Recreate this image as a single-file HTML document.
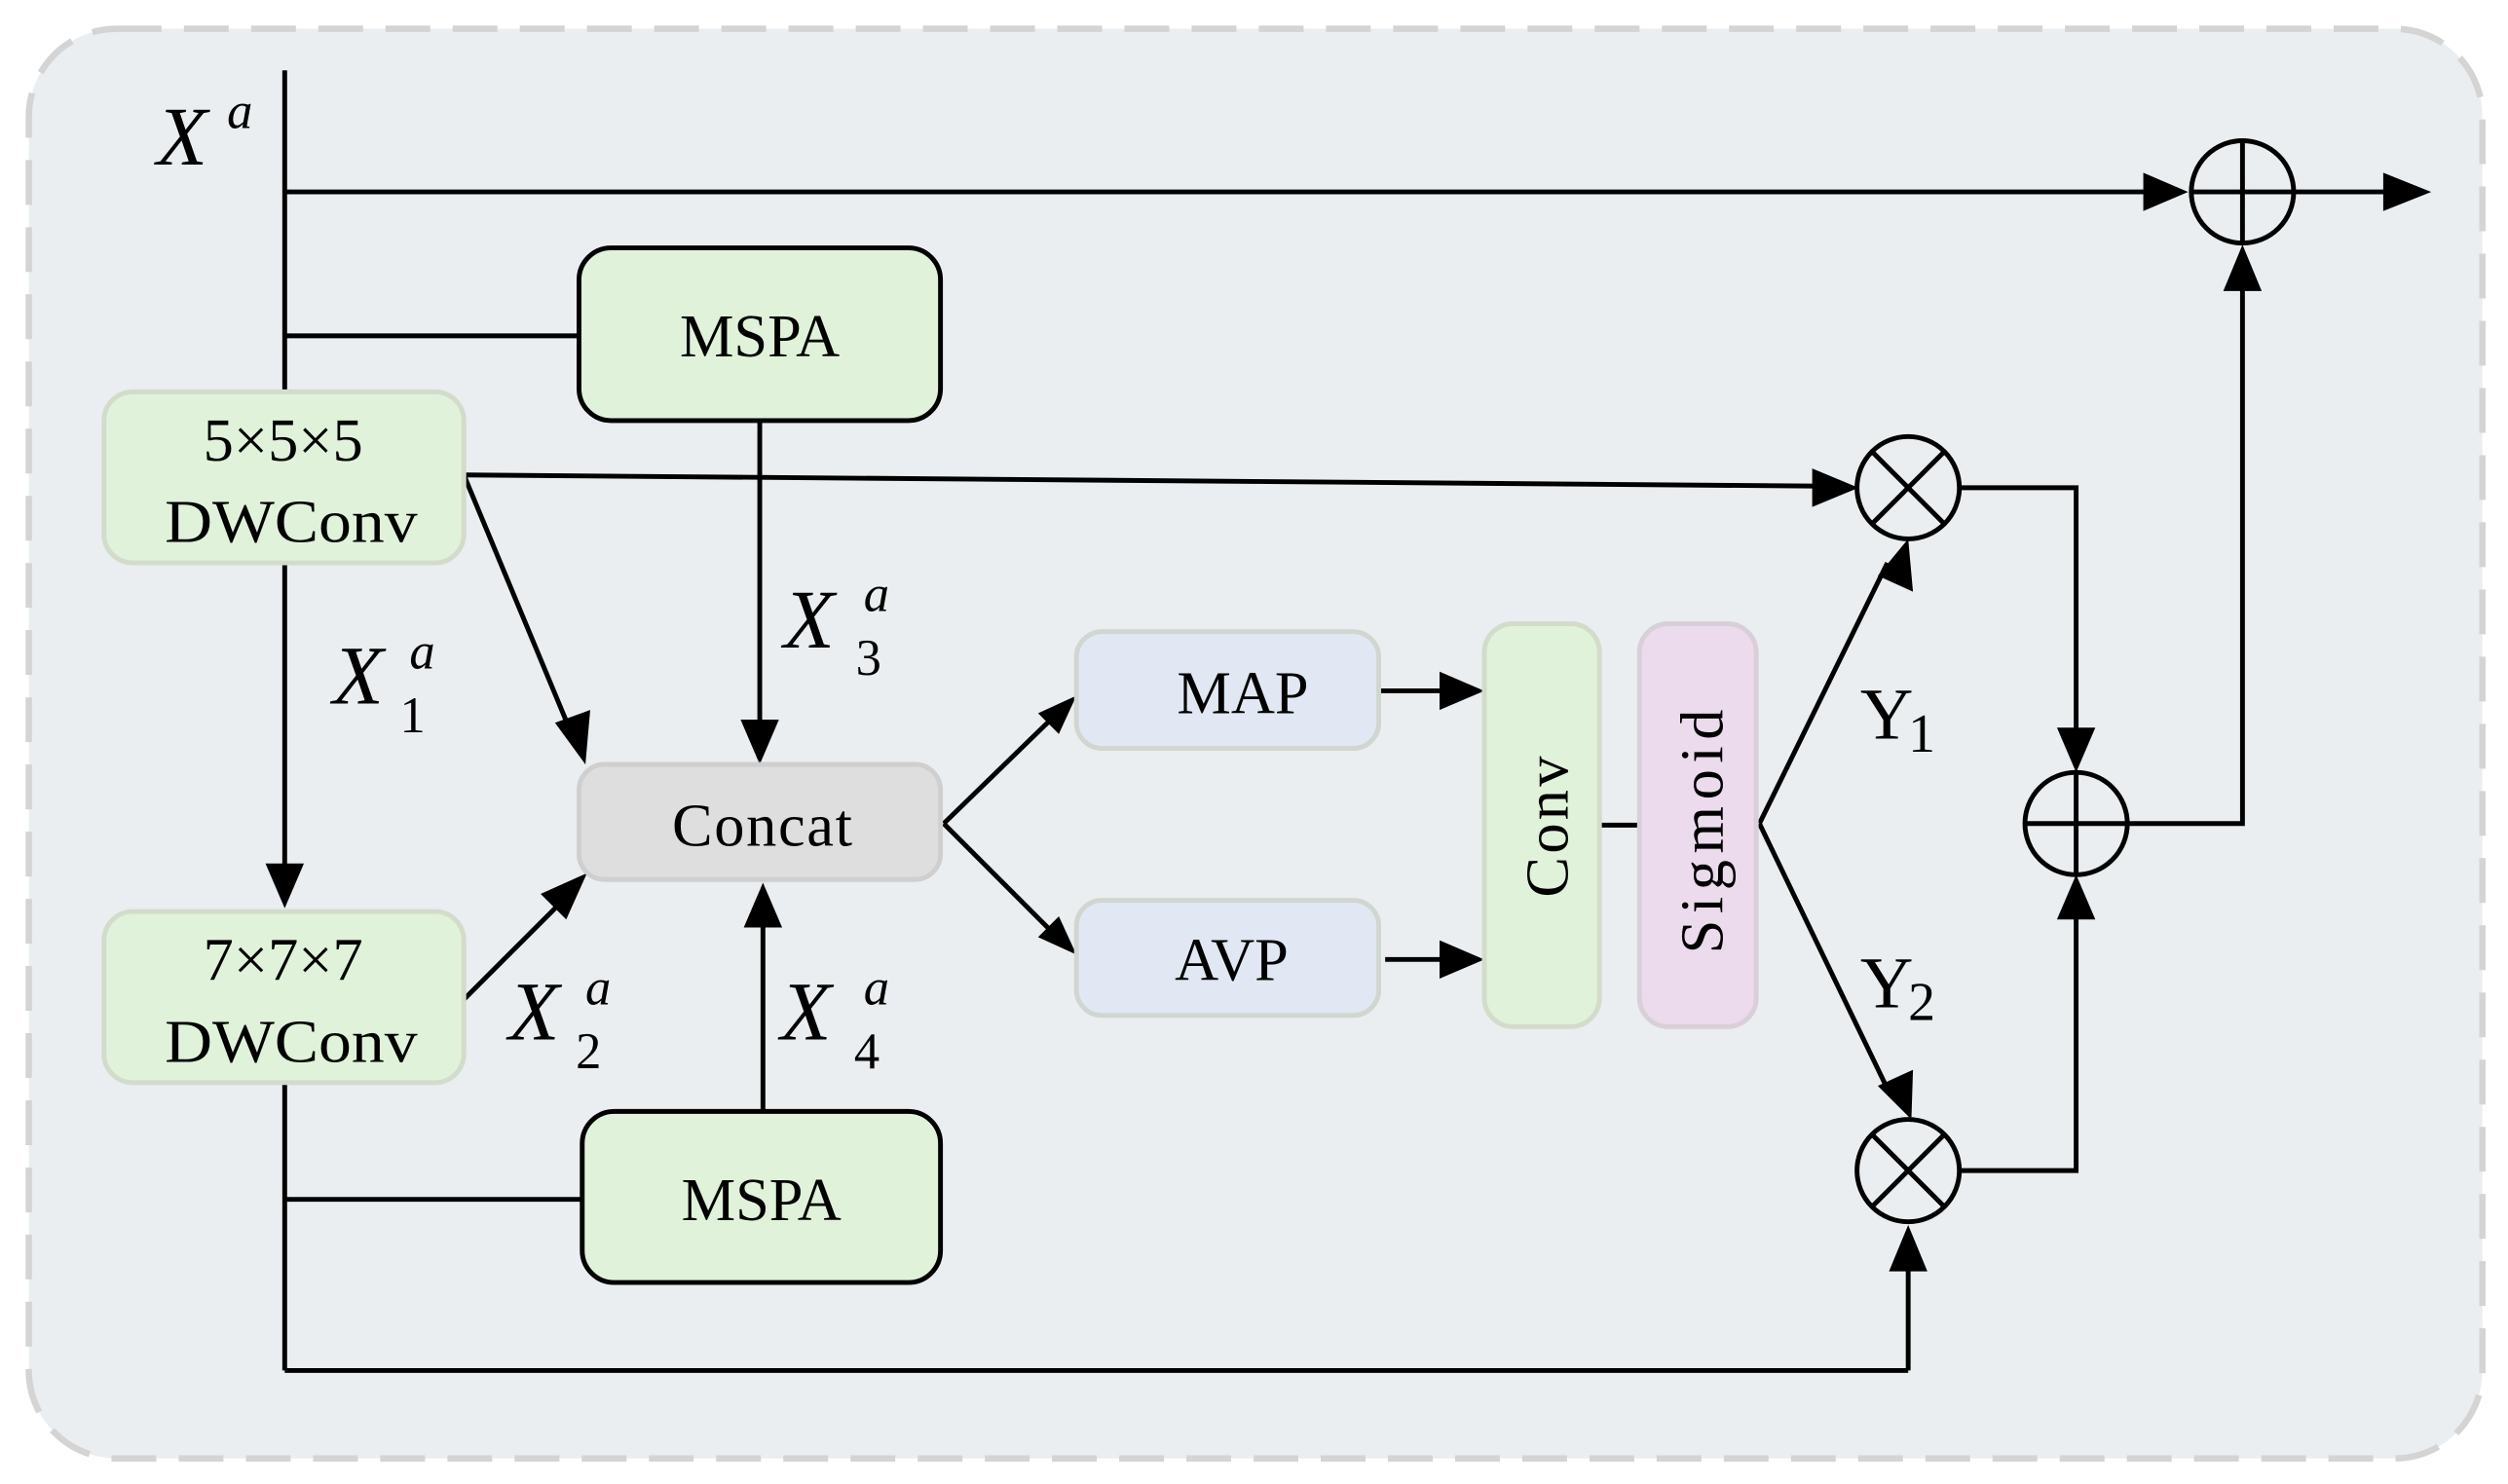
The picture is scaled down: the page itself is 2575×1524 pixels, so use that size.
<!DOCTYPE html>
<html><head><meta charset="utf-8"><style>
html,body{margin:0;padding:0;background:#fff;}
svg{display:block;}
text{font-family:"Liberation Serif",serif;fill:#000;}
</style></head><body>
<svg width="2575" height="1524" viewBox="0 0 1568 928" preserveAspectRatio="none" xmlns="http://www.w3.org/2000/svg">
<rect x="18" y="18" width="1534" height="894" rx="55" fill="#eaeef0" stroke="#d4d4d4" stroke-width="4" stroke-dasharray="28,14"/>
<g stroke="#000" stroke-width="3" fill="none">
<line x1="178" y1="44" x2="178" y2="545"/>
<line x1="178" y1="120" x2="1345" y2="120"/>
<line x1="1434" y1="120" x2="1500" y2="120"/>
<line x1="178" y1="210" x2="362" y2="210"/>
<line x1="290" y1="297" x2="1140" y2="304"/>
<line x1="290" y1="297" x2="357" y2="458"/>
<line x1="475" y1="263" x2="475" y2="458"/>
<line x1="290" y1="625" x2="352" y2="563"/>
<line x1="477" y1="695" x2="477" y2="572"/>
<line x1="178" y1="677" x2="178" y2="857"/>
<line x1="178" y1="857" x2="1193" y2="857"/>
<line x1="1193" y1="857" x2="1193" y2="785"/>
<line x1="178" y1="750" x2="364" y2="750"/>
<line x1="590" y1="515" x2="660" y2="447"/>
<line x1="590" y1="515" x2="660" y2="585"/>
<line x1="862" y1="432" x2="910" y2="432"/>
<line x1="866" y1="600" x2="910" y2="600"/>
<line x1="1000" y1="516" x2="1025" y2="516"/>
<line x1="1100" y1="515" x2="1180" y2="352"/>
<line x1="1100" y1="515" x2="1182" y2="685"/>
<polyline points="1225,305 1298,305 1298,465"/>
<polyline points="1225,732 1298,732 1298,565"/>
<polyline points="1330,515 1402,515 1402,172"/>
</g>
<g fill="#000">
<polygon points="1368,120 1340,108 1340,132"/>
<polygon points="1520,120 1490,108 1490,132"/>
<polygon points="1402,153 1390,182 1414,182"/>
<polygon points="178,568 166,540 190,540"/>
<polygon points="1162,305 1133,293 1133,317"/>
<polygon points="366,478 347,452 369,444"/>
<polygon points="475,478 463,450 487,450"/>
<polygon points="367,546 354,575 338,559"/>
<polygon points="477,552 465,580 489,580"/>
<polygon points="1193,766 1181,795 1205,795"/>
<polygon points="673,435 649,446 662,459"/>
<polygon points="673,597 649,586 662,573"/>
<polygon points="928,432 900,420 900,444"/>
<polygon points="928,600 900,588 900,612"/>
<polygon points="1193,337 1174,360 1196,370"/>
<polygon points="1195,700 1174,679 1196,669"/>
<polygon points="1298,483 1286,455 1310,455"/>
<polygon points="1298,547 1286,575 1310,575"/>
</g>
<g stroke="#000" stroke-width="3" fill="none">
<circle cx="1402" cy="120" r="32"/><line x1="1370" y1="120" x2="1434" y2="120"/><line x1="1402" y1="88" x2="1402" y2="152"/>
<circle cx="1298" cy="515" r="32"/><line x1="1266" y1="515" x2="1330" y2="515"/><line x1="1298" y1="483" x2="1298" y2="547"/>
<circle cx="1193" cy="305" r="32"/><line x1="1170" y1="282" x2="1216" y2="328"/><line x1="1216" y1="282" x2="1170" y2="328"/>
<circle cx="1193" cy="732" r="32"/><line x1="1170" y1="709" x2="1216" y2="755"/><line x1="1216" y1="709" x2="1170" y2="755"/>
</g>
<rect x="362" y="155" width="226" height="108" rx="20" fill="#e0f2da" stroke="#000" stroke-width="3"/>
<rect x="364" y="695" width="224" height="107" rx="20" fill="#e0f2da" stroke="#000" stroke-width="3"/>
<rect x="65" y="245" width="225" height="107" rx="18" fill="#e0f2da" stroke="#d3dccb" stroke-width="3"/>
<rect x="65" y="570" width="225" height="107" rx="18" fill="#e0f2da" stroke="#d3dccb" stroke-width="3"/>
<rect x="362" y="478" width="226" height="72" rx="16" fill="#dedede" stroke="#cfcfcf" stroke-width="3"/>
<rect x="673" y="395" width="189" height="73" rx="16" fill="#e1e8f3" stroke="#d0d6d0" stroke-width="3"/>
<rect x="673" y="563" width="189" height="72" rx="16" fill="#e1e8f3" stroke="#d0d6d0" stroke-width="3"/>
<rect x="928" y="390" width="72" height="252" rx="18" fill="#e0f2da" stroke="#d3dccb" stroke-width="3"/>
<rect x="1025" y="390" width="73" height="252" rx="18" fill="#ebdbec" stroke="#d8d0d8" stroke-width="3"/>
<g font-size="38" text-anchor="middle">
<text x="475" y="223">MSPA</text>
<text x="476" y="763">MSPA</text>
<text x="177" y="288">5×5×5</text>
<text x="182" y="339" textLength="158" lengthAdjust="spacingAndGlyphs">DWConv</text>
<text x="177" y="613">7×7×7</text>
<text x="182" y="664" textLength="158" lengthAdjust="spacingAndGlyphs">DWConv</text>
<text x="477" y="529" letter-spacing="1">Concat</text>
<text x="777" y="446">MAP</text>
<text x="770" y="613">AVP</text>
<text transform="translate(980,516) rotate(-90)" letter-spacing="2">Conv</text>
<text transform="translate(1077,518) rotate(-90)" letter-spacing="4">Sigmoid</text>
</g>
<g font-size="52" font-style="italic">
<text x="98" y="103">X</text><text x="142" y="80" font-size="32">a</text>
<text x="208" y="440">X</text><text x="256" y="418" font-size="32">a</text><text x="250" y="458" font-size="32" font-style="normal">1</text>
<text x="490" y="405">X</text><text x="540" y="382" font-size="32">a</text><text x="535" y="422" font-size="32" font-style="normal">3</text>
<text x="318" y="650">X</text><text x="366" y="628" font-size="32">a</text><text x="360" y="668" font-size="32" font-style="normal">2</text>
<text x="488" y="650">X</text><text x="540" y="628" font-size="32">a</text><text x="534" y="668" font-size="32" font-style="normal">4</text>
</g>
<g font-size="46">
<text x="1163" y="462">Y</text><text x="1193" y="470" font-size="34">1</text>
<text x="1163" y="630">Y</text><text x="1193" y="638" font-size="34">2</text>
</g>
</svg>
</body></html>
